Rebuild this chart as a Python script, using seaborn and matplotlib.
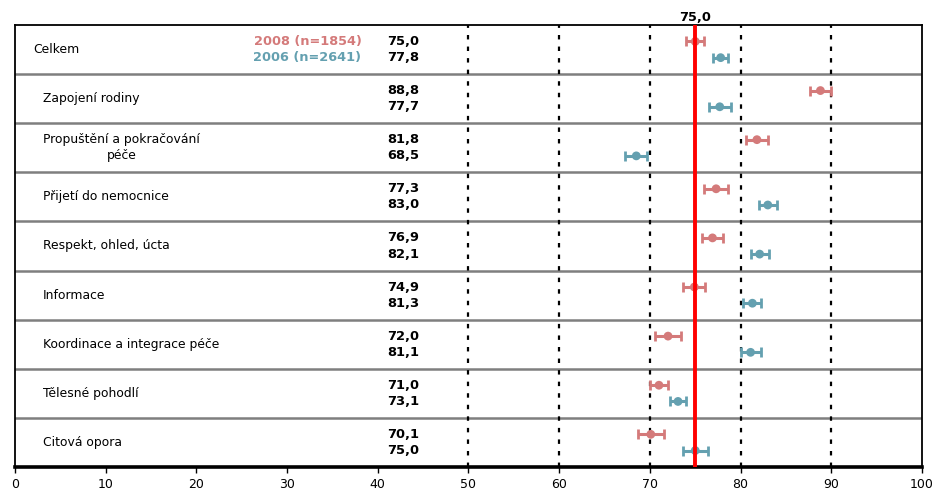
import matplotlib
matplotlib.use("Agg")
import matplotlib.pyplot as plt
import seaborn as sns
import pandas as pd
import numpy as np

# Hodnocení dimenzí péče, průměrné skóre s intervaly spolehlivosti
categories = [
    "Celkem",
    "Zapojení rodiny",
    "Propuštění a pokračování\npéče",
    "Přijetí do nemocnice",
    "Respekt, ohled, úcta",
    "Informace",
    "Koordinace a integrace péče",
    "Tělesné pohodlí",
    "Citová opora",
]
values_2008 = [75.0, 88.8, 81.8, 77.3, 76.9, 74.9, 72.0, 71.0, 70.1]
values_2006 = [77.8, 77.7, 68.5, 83.0, 82.1, 81.3, 81.1, 73.1, 75.0]
err_2008 = [1.0, 1.2, 1.2, 1.3, 1.2, 1.2, 1.4, 1.0, 1.4]
err_2006 = [0.8, 1.2, 1.2, 1.0, 1.0, 1.0, 1.1, 0.85, 1.4]
series_labels = ["2008 (n=1854)", "2006 (n=2641)"]
reference_value = 75.0
x_ticks = [0, 10, 20, 30, 40, 50, 60, 70, 80, 90, 100]
grid_lines = [50, 60, 70, 80, 90]

RED = "#d47a7a"
BLUE = "#64a0b0"

sns.set_theme(style="white")
plt.rcParams["font.family"] = ["DejaVu Sans"]
plt.rcParams["text.color"] = "black"
plt.rcParams["xtick.color"] = "black"
plt.rcParams["xtick.labelcolor"] = "black"

n = len(categories)
offset = 0.165
rows = []
for i, cat in enumerate(categories):
    rows.append({"cat": cat, "year": "2008", "value": values_2008[i],
                 "err": err_2008[i], "y": i + 0.5 - offset})
    rows.append({"cat": cat, "year": "2006", "value": values_2006[i],
                 "err": err_2006[i], "y": i + 0.5 + offset})
df = pd.DataFrame(rows)

fig = plt.figure(figsize=(9.37, 4.94), dpi=100)
ax = fig.add_axes([15 / 937, 27 / 494, 907 / 937, 442 / 494])

palette = {"2008": RED, "2006": BLUE}

# chybové úsečky
for year, color in palette.items():
    sub = df[df["year"] == year]
    ax.errorbar(sub["value"], sub["y"], xerr=sub["err"], fmt="none",
                ecolor=color, elinewidth=2.2, capsize=3.5, capthick=2.0,
                zorder=3)

sns.scatterplot(data=df, x="value", y="y", hue="year", palette=palette,
                s=40, edgecolor="none", legend=False, ax=ax, zorder=4)

ax.set_xlim(0, 100)
ax.set_ylim(n, 0)

# oddělovače řádků
for i in range(1, n):
    ax.axhline(i, color="#7f7f7f", lw=1.8, zorder=1)

# tečkované svislé čáry
for g in grid_lines:
    ax.axvline(g, color="black", lw=1.6, ls=(0, (2, 3.2)), zorder=1)

# referenční čára
ax.axvline(reference_value, color="#ff0000", lw=2.8, zorder=5)
ax.text(reference_value, -0.03, f"{reference_value:.1f}".replace(".", ","),
        ha="center", va="bottom", fontsize=9.3, fontweight="bold")

# popisky kategorií a hodnoty
for i, cat in enumerate(categories):
    xpos = 2.0 if i == 0 else 3.1
    if "\n" in cat:
        ax.text(xpos, i + 0.5, cat, ha="left", va="center", fontsize=8.9,
                multialignment="center", linespacing=1.3)
    else:
        ax.text(xpos, i + 0.5, cat, ha="left", va="center", fontsize=8.9)
    ax.text(44.6, i + 0.5 - offset, f"{values_2008[i]:.1f}".replace(".", ","),
            ha="right", va="center", fontsize=9.4, fontweight="bold")
    ax.text(44.6, i + 0.5 + offset, f"{values_2006[i]:.1f}".replace(".", ","),
            ha="right", va="center", fontsize=9.4, fontweight="bold")

ax.text(38.2, 0.5 - offset, series_labels[0], ha="right", va="center",
        fontsize=9.3, fontweight="bold", color=RED)
ax.text(38.2, 0.5 + offset, series_labels[1], ha="right", va="center",
        fontsize=9.3, fontweight="bold", color=BLUE)

ax.set_xticks(x_ticks)
ax.set_xticklabels([str(t) for t in x_ticks], fontsize=9)
ax.set_yticks([])
ax.set_xlabel("")
ax.set_ylabel("")
ax.tick_params(axis="x", direction="out", length=4, width=1, color="black",
               labelcolor="black", pad=4, bottom=True)

for side in ["left", "right", "top"]:
    ax.spines[side].set_color("black")
    ax.spines[side].set_linewidth(1.3)
ax.spines["bottom"].set_color("black")
ax.spines["bottom"].set_linewidth(2.6)

fig.savefig("out.png", dpi=100, facecolor="white")
